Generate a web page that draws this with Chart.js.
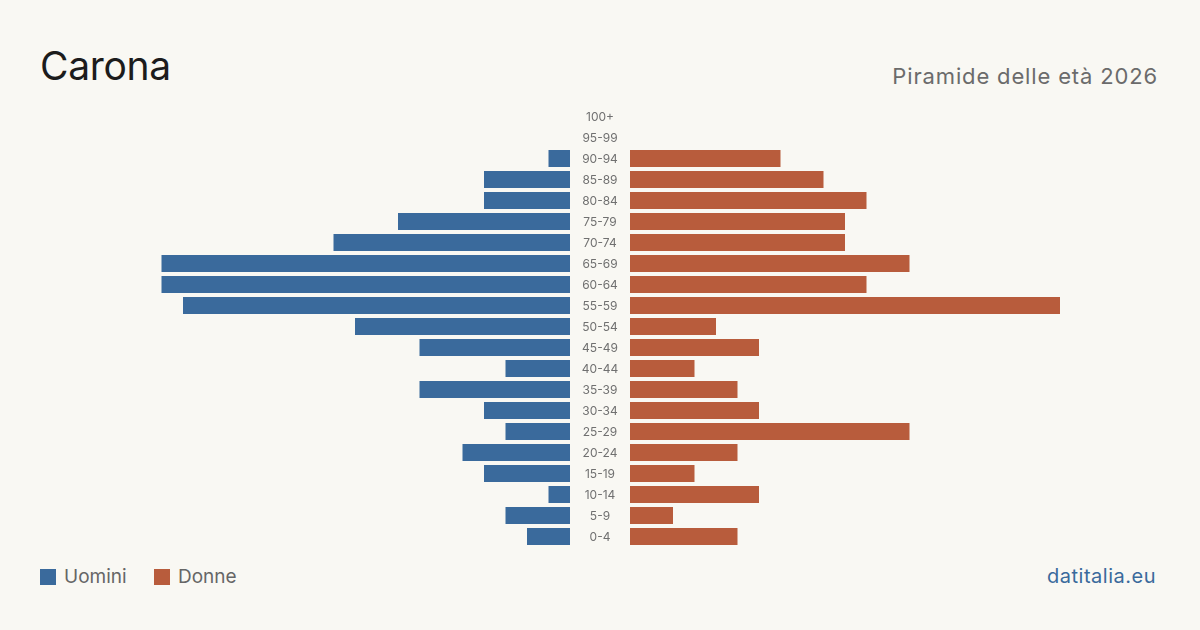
<!DOCTYPE html>
<html>
<head>
<meta charset="utf-8">
<script src="https://cdn.jsdelivr.net/npm/chart.js@4"></script>
<style>
  body { margin: 0; background: #f9f8f3; font-family: Inter, "Noto Sans", sans-serif; }
  #page { position: relative; width: 1200px; height: 630px; overflow: hidden; background: #f9f8f3; }
  .txt { position: absolute; white-space: nowrap; }
  #title { left: 40px; top: 41px; font-size: 39px; color: #1c1c1c; line-height: 50px; letter-spacing: -0.3px; }
  #subtitle { right: 42px; top: 62px; font-size: 22px; color: #6b6b6b; line-height: 28px; letter-spacing: 0.85px; }
  #legend { left: 40px; top: 565px; font-size: 19px; color: #666; line-height: 24px; }
  #legend span.box { display: inline-block; width: 16px; height: 16px; vertical-align: -2px; margin-right: 8px; }
  #legend span.item { margin-right: 22px; }
  #brand { right: 44px; top: 563px; font-size: 20px; color: #3a6a9c; line-height: 26px; letter-spacing: 0.5px; }
  #wrapL { position: absolute; left: 140px; top: 106px; width: 430px; height: 441px; }
  #wrapR { position: absolute; left: 570px; top: 106px; width: 490px; height: 441px; }
</style>
</head>
<body>
<div id="page">
  <div id="title" class="txt">Carona</div>
  <div id="subtitle" class="txt">Piramide delle età 2026</div>
  <div id="legend" class="txt">
    <span class="item"><span class="box" style="background:#3a6a9c"></span>Uomini</span>
    <span class="item"><span class="box" style="background:#b85c3c"></span>Donne</span>
  </div>
  <div id="brand" class="txt">datitalia.eu</div>
  <div id="wrapL"><canvas id="left"></canvas></div>
  <div id="wrapR"><canvas id="right"></canvas></div>
</div>
<script>
// age classes, top to bottom
const ageClasses = ["100+", "95-99", "90-94", "85-89", "80-84", "75-79", "70-74", "65-69", "60-64",
  "55-59", "50-54", "45-49", "40-44", "35-39", "30-34", "25-29", "20-24", "15-19", "10-14", "5-9", "0-4"];
const uomini = [0, 0, 1, 4, 4, 8, 11, 19, 19, 18, 10, 7, 3, 7, 4, 3, 5, 4, 1, 3, 2];
const donne  = [0, 0, 7, 9, 11, 10, 10, 13, 11, 20, 4, 6, 3, 5, 6, 13, 5, 3, 6, 2, 5];
const maxVal = 20;

const BLUE = "#3a6a9c";
const ORANGE = "#b85c3c";

function baseOptions(reverse) {
  return {
    indexAxis: "y",
    responsive: true,
    maintainAspectRatio: false,
    animation: false,
    layout: { padding: 0 },
    plugins: { legend: { display: false }, tooltip: { enabled: false } },
    scales: {
      x: { min: 0, max: maxVal, reverse: reverse, display: false },
      y: { display: false }
    }
  };
}

new Chart(document.getElementById("left"), {
  type: "bar",
  data: {
    labels: ageClasses,
    datasets: [{ data: uomini, backgroundColor: BLUE, barPercentage: 0.81, categoryPercentage: 1 }]
  },
  options: baseOptions(true)
});

// draws the age labels in the middle column (the right chart's y axis)
const middleLabels = {
  id: "middleLabels",
  afterDraw(chart) {
    const y = chart.scales.y;
    const ctx = chart.ctx;
    ctx.save();
    ctx.font = "12px Inter, 'Noto Sans', sans-serif";
    ctx.fillStyle = "#707070";
    ctx.textAlign = "center";
    ctx.textBaseline = "middle";
    const cx = (y.left + y.right) / 2;
    ageClasses.forEach((lab, i) => {
      ctx.fillText(lab, cx, y.getPixelForTick(i) + 1);
    });
    ctx.restore();
  }
};

const optR = baseOptions(false);
optR.scales.y = {
  display: true,
  grid: { display: false },
  border: { display: false },
  ticks: { display: false },
  afterFit(scale) { scale.width = 60; }
};

new Chart(document.getElementById("right"), {
  type: "bar",
  data: {
    labels: ageClasses,
    datasets: [{ data: donne, backgroundColor: ORANGE, barPercentage: 0.81, categoryPercentage: 1 }]
  },
  options: optR,
  plugins: [middleLabels]
});
</script>
</body>
</html>
